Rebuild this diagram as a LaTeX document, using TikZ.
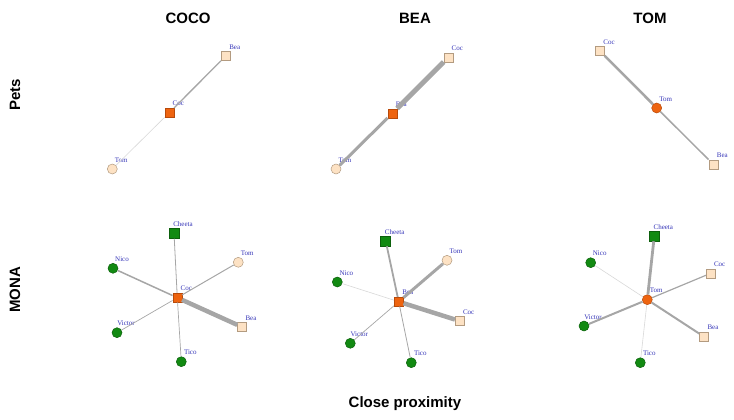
\documentclass[tikz,border=0pt]{standalone}
\usepackage{fontspec}
\setmainfont{Liberation Serif}
\newfontfamily\headfont{Liberation Sans}
\usepackage{tikz}
\usepackage{xcolor}
\definecolor{hub}{HTML}{EE6410}
\definecolor{hubline}{HTML}{B84A0A}
\definecolor{pet}{HTML}{FDE2C4}
\definecolor{petline}{HTML}{B39B80}
\definecolor{leaf}{HTML}{128A12}
\definecolor{leafline}{HTML}{0C600C}
\definecolor{tie}{HTML}{A6A6A6}
\definecolor{tielt}{HTML}{D8D8D8}
\definecolor{lblue}{HTML}{3535B8}

\tikzset{
  lbl/.style={font=\fontsize{7}{8}\selectfont,text=lblue,inner sep=0pt,xshift=9pt,yshift=9pt},
  hubsq/.style={draw=hubline,fill=hub,minimum size=9pt,inner sep=0pt,line width=.5pt},
  hubci/.style={circle,draw=hubline,fill=hub,minimum size=10pt,inner sep=0pt,line width=.5pt},
  petsq/.style={draw=petline,fill=pet,minimum size=9pt,inner sep=0pt,line width=.5pt},
  petci/.style={circle,draw=petline,fill=pet,minimum size=10pt,inner sep=0pt,line width=.5pt},
  leafsq/.style={draw=leafline,fill=leaf,minimum size=10pt,inner sep=0pt,line width=.5pt},
  leafci/.style={circle,draw=leafline,fill=leaf,minimum size=10pt,inner sep=0pt,line width=.5pt},
  ttl/.style={font=\headfont\fontsize{15}{17}\selectfont\bfseries}
}

\begin{document}
\begin{tikzpicture}[x=1pt,y=-1pt]
  \useasboundingbox (0,0) rectangle (734,420);

  % headings
  \node[ttl] (h-coco) at (188,18) {COCO};
  \node[ttl] (h-bea) at (415,18) {BEA};
  \node[ttl] (h-tom) at (650,18) {TOM};
  \node[ttl,rotate=90] (h-pets) at (15,95) {Pets};
  \node[ttl,rotate=90] (h-mona) at (15,290) {MONA};
  \node[ttl] (h-prox) at (405,404) {Close proximity};

  % pets, COCO
  \foreach \n/\x/\y/\st/\lab in {bea/225.7/56/petsq/Bea,coc/169.3/112.7/hubsq/Coc,tom/112.3/169/petci/Tom} {
    \node[\st,label={[lbl]center:\lab}] (pc-\n) at (\x,\y) {};
  }
  \foreach \b/\w/\c in {bea/1.3/tie,tom/.6/tielt} {
    \draw[\c,line width=\w pt] (pc-coc) -- (pc-\b);
  }

  % pets, BEA
  \foreach \n/\x/\y/\st/\lab in {coc/448.3/57.3/petsq/Coc,bea/392.3/113.3/hubsq/Bea,tom/336/169/petci/Tom} {
    \node[\st,label={[lbl]center:\lab}] (pb-\n) at (\x,\y) {};
  }
  \foreach \b/\w/\c in {coc/5/tie,tom/3/tie} {
    \draw[\c,line width=\w pt] (pb-bea) -- (pb-\b);
  }

  % pets, TOM
  \foreach \n/\x/\y/\st/\lab in {coc/600/51/petsq/Coc,tom/656.7/108/hubci/Tom,bea/713.3/164.3/petsq/Bea} {
    \node[\st,label={[lbl]center:\lab}] (pt-\n) at (\x,\y) {};
  }
  \foreach \b/\w/\c in {coc/2.5/tie,bea/1.5/tie} {
    \draw[\c,line width=\w pt] (pt-tom) -- (pt-\b);
  }

  % MONA, COCO
  \foreach \n/\x/\y/\st/\lab in {cheeta/174/233.3/leafsq/Cheeta,nico/113/268.3/leafci/Nico,
      tom/238.3/262.3/petci/Tom,coc/177.3/297.7/hubsq/Coc,victor/117/332.7/leafci/Victor,
      bea/242/327/petsq/Bea,tico/181.3/361.7/leafci/Tico} {
    \node[\st,label={[lbl]center:\lab}] (mc-\n) at (\x,\y) {};
  }
  \foreach \b/\w/\c in {bea/4.5/tie,nico/1.5/tie,tom/1/tie,cheeta/.8/tie,victor/.7/tie,tico/.7/tie} {
    \draw[\c,line width=\w pt] (mc-coc) -- (mc-\b);
  }

  % MONA, BEA
  \foreach \n/\x/\y/\st/\lab in {cheeta/385.7/241/leafsq/Cheeta,tom/447/260.3/petci/Tom,
      nico/337.3/282/leafci/Nico,bea/398.7/301.7/hubsq/Bea,coc/459.7/321/petsq/Coc,
      victor/350.3/343.3/leafci/Victor,tico/411.3/362.7/leafci/Tico} {
    \node[\st,label={[lbl]center:\lab}] (mb-\n) at (\x,\y) {};
  }
  \foreach \b/\w/\c in {coc/4.5/tie,tom/3/tie,cheeta/1.8/tie,nico/.6/tielt,victor/.7/tie,tico/.8/tie} {
    \draw[\c,line width=\w pt] (mb-bea) -- (mb-\b);
  }

  % MONA, TOM
  \foreach \n/\x/\y/\st/\lab in {cheeta/654.3/236/leafsq/Cheeta,nico/590.7/262.7/leafci/Nico,
      coc/710.7/273.3/petsq/Coc,tom/647.3/299.7/hubci/Tom,victor/584/326/leafci/Victor,
      bea/704/336.7/petsq/Bea,tico/640.3/362.7/leafci/Tico} {
    \node[\st,label={[lbl]center:\lab}] (mt-\n) at (\x,\y) {};
  }
  \foreach \b/\w/\c in {cheeta/2.8/tie,victor/2/tie,bea/2/tie,coc/1.2/tie,nico/.6/tielt,tico/.6/tielt} {
    \draw[\c,line width=\w pt] (mt-tom) -- (mt-\b);
  }
\end{tikzpicture}
\end{document}
